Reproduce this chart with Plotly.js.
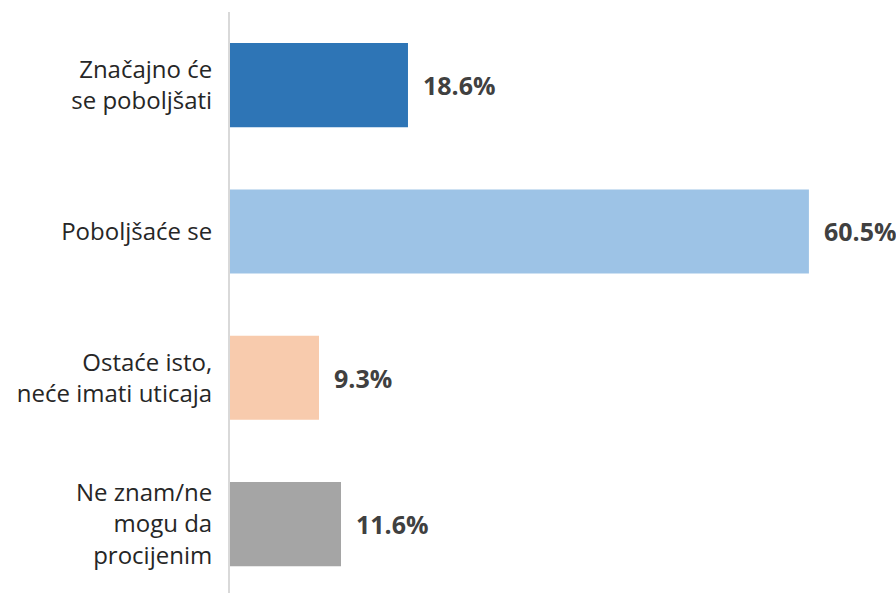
<!DOCTYPE html>
<html>
<head>
<meta charset="utf-8">
<script src="https://cdn.plot.ly/plotly-3.0.1.min.js"></script>
<style>html,body{margin:0;padding:0;background:#fff;}#chart{width:896px;height:593px;}</style>
</head>
<body>
<div id="chart"></div>
<script>
const categories = ["Značajno će<br>se poboljšati", "Poboljšaće se", "Ostaće isto,<br>neće imati uticaja", "Ne znam/ne<br>mogu da<br>procijenim"];
const values = [18.6, 60.5, 9.3, 11.6];
const valueLabels = ["18.6%", "60.5%", "9.3%", "11.6%"];
const colors = ["#2E75B6", "#9DC3E6", "#F8CBAD", "#A5A5A5"];

const trace = {
  type: "bar",
  orientation: "h",
  y: categories,
  x: values,
  marker: {color: colors},
  width: 0.575,
  hoverinfo: "none"
};

const annotations = values.map((v, i) => ({
  x: v, y: categories[i], xref: "x", yref: "y",
  text: valueLabels[i], showarrow: false,
  xanchor: "left", xshift: 13,
  font: {family: "Open Sans", size: 25, color: "#404040", weight: "bold"}
}));

const layout = {
  width: 896, height: 593,
  margin: {l: 230, r: 0, t: 12, b: 0},
  paper_bgcolor: "#fff", plot_bgcolor: "#fff",
  showlegend: false,
  xaxis: {range: [0, 69.6], visible: false, fixedrange: true},
  yaxis: {
    type: "category",
    range: [3.471, -0.5],
    showline: true, linecolor: "#D9D9D9", linewidth: 2,
    showgrid: false, zeroline: false,
    ticks: "outside", ticklen: 11, tickcolor: "rgba(0,0,0,0)",
    tickfont: {family: "Open Sans", size: 24, color: "#262626"}
  },
  annotations: annotations
};

Plotly.newPlot("chart", [trace], layout, {displayModeBar: false, staticPlot: true});
</script>
</body>
</html>
